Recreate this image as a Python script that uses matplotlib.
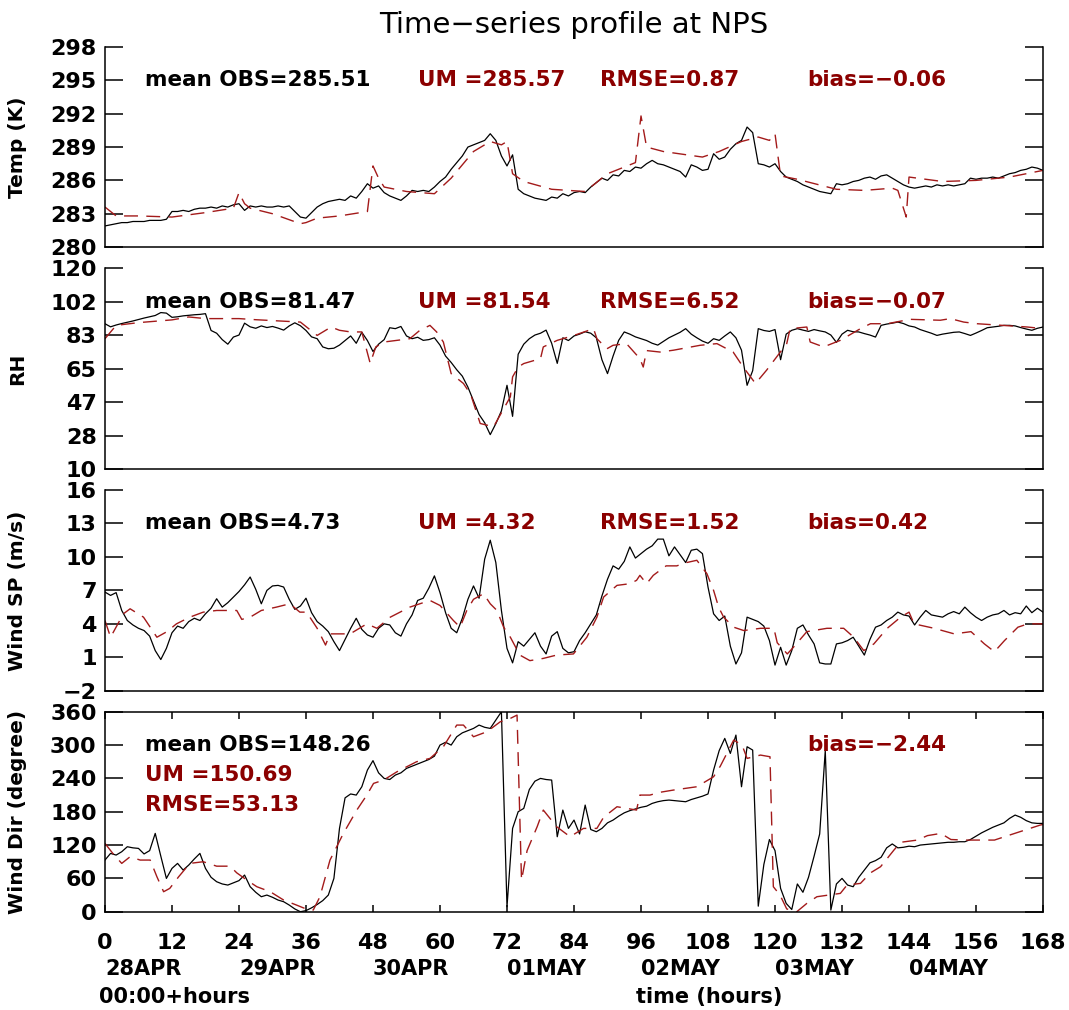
import numpy as np
import matplotlib
matplotlib.use('Agg')
import matplotlib.pyplot as plt
from matplotlib.transforms import blended_transform_factory

# ---- data ----
# observations, hourly from 0 to 168 h
temp_obs = [281.9, 282.0, 282.1, 282.2, 282.2, 282.3, 282.3, 282.3, 282.4, 282.4, 282.4, 282.5,
            283.2, 283.2, 283.3, 283.2, 283.4, 283.5, 283.5, 283.6, 283.5, 283.7, 283.6, 283.8,
            283.9, 283.3, 283.7, 283.6, 283.7, 283.6, 283.6, 283.7, 283.6, 283.7, 283.2, 282.7,
            282.6, 283.1, 283.6, 283.9, 284.1, 284.2, 284.3, 284.2, 284.6, 284.4, 285.0, 285.7,
            285.3, 285.5, 284.9, 284.6, 284.4, 284.2, 284.6, 285.1, 285.0, 285.1, 285.0, 285.4,
            285.9, 286.3, 287.0, 287.6, 288.2, 289.0, 289.2, 289.4, 289.6, 290.2, 289.6, 288.2,
            287.3, 288.3, 285.2, 284.8, 284.6, 284.4, 284.3, 284.2, 284.5, 284.4, 284.8, 284.6,
            284.9, 285.0, 284.9, 285.4, 285.8, 286.2, 286.0, 286.5, 286.4, 286.9, 286.8, 287.2,
            287.1, 287.5, 287.8, 287.5, 287.4, 287.2, 287.0, 286.8, 286.3, 287.4, 287.2, 286.9,
            287.0, 288.4, 287.9, 288.1, 288.8, 289.3, 289.6, 290.8, 290.3, 287.5, 287.4, 287.2,
            287.5, 286.8, 286.3, 286.1, 285.9, 285.6, 285.4, 285.2, 285.0, 284.9, 284.8, 285.7,
            285.6, 285.7, 285.9, 286.0, 286.2, 286.3, 286.1, 286.4, 286.5, 286.2, 285.9, 285.6,
            285.4, 285.3, 285.4, 285.5, 285.4, 285.6, 285.5, 285.6, 285.5, 285.6, 285.7, 286.2,
            286.1, 286.2, 286.2, 286.3, 286.2, 286.4, 286.6, 286.7, 286.9, 287.0, 287.2, 287.1,
            286.9]

rh_obs = [89.7, 88.0, 89.0, 89.8, 90.5, 91.2, 92.0, 92.8, 93.5, 94.2, 95.8, 95.5,
          93.2, 93.5, 94.0, 94.3, 94.6, 94.8, 95.2, 86.0, 84.5, 81.0, 78.5, 82.4,
          83.5, 90.0, 88.0, 87.2, 88.5, 87.6, 88.2, 87.3, 86.2, 88.5, 90.2, 88.6,
          86.0, 82.5, 81.5, 77.0, 76.0, 76.3, 78.0, 80.5, 83.0, 79.0, 85.0, 80.5,
          74.5, 78.5, 81.0, 87.5, 87.0, 88.2, 83.0, 81.5, 82.3, 80.6, 81.0, 82.0,
          78.0, 72.0, 68.5, 64.5, 61.0, 55.0, 47.5, 40.0, 35.5, 29.0, 35.0, 42.0,
          56.0, 39.0, 73.0, 78.5, 81.5, 83.5, 84.5, 86.2, 79.0, 68.0, 82.0, 80.5,
          83.0, 84.0, 85.3, 84.5, 82.0, 70.0, 62.4, 72.0, 80.6, 85.2, 84.0, 82.5,
          81.5, 80.5, 79.0, 78.0, 80.0, 82.0, 83.5, 85.0, 87.0, 84.0, 82.0, 80.2,
          79.0, 81.5, 80.6, 83.0, 85.2, 82.0, 75.2, 56.0, 64.0, 87.0, 86.0, 85.5,
          86.5, 70.0, 84.0, 86.1, 87.0, 86.2, 85.5, 86.5, 85.8, 85.2, 83.5, 79.5,
          84.0, 86.1, 85.3, 85.2, 84.3, 83.5, 82.4, 88.8, 89.5, 90.0, 90.6, 89.8,
          88.5, 87.9, 86.5, 85.5, 84.5, 83.3, 84.0, 84.5, 85.0, 85.2, 84.3, 83.3,
          84.6, 86.0, 87.5, 87.9, 88.3, 88.8, 88.8, 88.5, 87.6, 86.8, 86.1, 87.2,
          87.9]

ws_obs = [6.85, 6.55, 6.8, 5.2, 4.3, 3.9, 3.6, 3.4, 2.9, 1.6, 0.8, 1.8,
          3.2, 3.8, 3.6, 4.2, 4.5, 4.3, 4.9, 5.4, 6.25, 5.5, 5.9, 6.4,
          6.9, 7.5, 8.2, 7.1, 5.8, 7.0, 7.4, 7.45, 7.3, 6.2, 5.3, 5.6,
          6.3, 5.0, 4.2, 3.8, 3.3, 2.4, 1.6, 2.6, 3.6, 4.5, 3.5, 3.0,
          2.8, 3.6, 4.0, 3.9, 3.2, 2.9, 4.0, 4.8, 6.1, 6.3, 7.2, 8.3,
          6.8, 5.0, 3.6, 3.2, 4.5, 6.2, 7.4, 6.3, 9.8, 11.5, 9.5, 5.2,
          1.8, 0.5, 2.4, 2.0, 2.6, 3.2, 2.0, 1.3, 2.9, 3.3, 1.8, 1.4,
          1.5, 2.5, 3.2, 4.0, 4.8, 6.5, 8.0, 9.2, 8.9, 9.6, 10.9, 9.9,
          10.3, 10.7, 11.0, 11.6, 11.6, 10.1, 10.9, 10.2, 9.5, 10.6, 10.7, 10.3,
          7.3, 4.9, 4.3, 4.7, 2.0, 0.4, 1.4, 4.6, 4.4, 4.2, 3.8, 2.5,
          0.3, 1.9, 0.3, 1.6, 3.6, 3.9, 3.0, 2.2, 0.5, 0.4, 0.4, 2.2,
          2.3, 2.5, 2.8, 2.0, 1.2, 2.6, 3.7, 3.9, 4.3, 4.6, 5.05, 4.8,
          4.7, 3.9, 4.6, 5.2, 4.8, 4.7, 4.6, 4.9, 5.1, 4.9, 5.5, 5.0,
          4.6, 4.3, 4.6, 4.8, 4.9, 5.2, 4.8, 5.0, 4.9, 5.6, 5.0, 5.4,
          5.05]

wd_obs = [93, 105, 102, 108, 117, 115, 114, 104, 110, 141, 100, 60,
          78, 87, 75, 84, 95, 105, 78, 62, 54, 50, 48, 52,
          56, 66, 45, 35, 27, 30, 26, 21, 18, 12, 5, 0,
          2, 7, 13, 20, 30, 60, 150, 205, 212, 210, 225, 255,
          272, 250, 240, 238, 246, 250, 258, 262, 266, 270, 274, 280,
          300, 305, 300, 315, 322, 326, 330, 336, 332, 330, 345, 360,
          9, 150, 180, 186, 220, 235, 240, 238, 237, 135, 183, 150,
          165, 140, 192, 148, 144, 150, 160, 165, 172, 178, 182, 185,
          188, 190, 195, 198, 200, 201, 200, 199, 198, 202, 205, 208,
          212, 255, 290, 312, 285, 318, 225, 297, 291, 10, 85, 130,
          110, 42, 15, 4, 50, 35, 62, 100, 140, 290, 3, 50,
          60, 48, 45, 62, 75, 88, 92, 98, 115, 122, 115, 116,
          118, 117, 120, 121, 122, 123, 124, 125, 125, 126, 126, 130,
          136, 142, 147, 152, 156, 160, 168, 174, 170, 164, 160, 159,
          159]

# model (UM) values at the hours where they could be read
temp_um_t = [0, 1, 2, 6, 12, 18, 23, 24, 25, 26, 30, 35, 36, 38, 42, 47, 48, 49, 50, 54,
             59, 62, 66, 69, 71, 72, 73, 75, 80, 86, 90, 95, 96, 97, 100, 107, 110, 114,
             117, 119, 120, 121, 124, 131, 136, 141, 142, 143.5, 144, 150, 156, 162, 168]
temp_um = [283.6, 283.2, 282.8, 282.8, 282.7, 283.1, 283.5, 284.9, 283.9, 283.5, 283.0,
           282.1, 282.2, 282.6, 282.8, 283.2, 287.3, 286.2, 285.4, 285.0, 284.8, 286.2,
           288.6, 289.5, 289.2, 289.5, 286.6, 285.9, 285.2, 285.0, 286.6, 287.6, 291.8,
           289.0, 288.6, 288.1, 288.6, 289.5, 289.9, 289.6, 290.2, 286.4, 286.1, 285.2,
           285.1, 285.3, 285.1, 282.7, 286.3, 285.9, 286.0, 286.3, 286.9]

rh_um_t = [0, 2, 6, 12, 15, 18, 24, 27, 35, 38, 40.5, 42, 44, 46, 47.5, 48.5, 50, 54.6,
           56.4, 58.2, 59.4, 60.6, 62, 64.2, 65.5, 67.2, 69.6, 72.6, 73, 74, 75, 78, 78.5,
           81, 84, 87.5, 88.1, 89.9, 91, 93.4, 95.8, 96.4, 97, 99.4, 101.8, 106.6, 109.6,
           112.5, 114.3, 116.5, 118.5, 122.1, 122.7, 125.7, 126.3, 128.7, 131.7, 135.3,
           137.1, 140.1, 144.2, 149.6, 151.4, 153.8, 156.2, 165.2, 168]
rh_um = [81.5, 88.8, 90.3, 91.8, 93.4, 92.5, 92.5, 91.9, 90.6, 83.3, 87.9, 86.1, 85.2,
         85.2, 68.0, 77.0, 79.7, 81.5, 86.1, 88.8, 85.2, 79.7, 62.4, 57.0, 51.0, 35.1,
         33.3, 49.7, 60.6, 66.0, 67.9, 70.6, 77.0, 80.6, 83.3, 87.0, 81.5, 76.0, 77.9,
         78.8, 70.6, 66.0, 75.0, 74.2, 75.2, 77.9, 78.8, 74.2, 66.0, 57.0, 64.3, 78.8,
         87.0, 87.9, 79.7, 77.0, 80.6, 87.0, 89.7, 89.7, 92.1, 91.6, 92.5, 90.6, 89.7,
         87.9, 87.0]

ws_um_t = [0, 1, 3.3, 4.5, 6.9, 9.3, 11.1, 12.8, 15.2, 17.6, 20, 23.6, 24.5, 26, 28,
           30.7, 33.1, 34.9, 36.1, 38, 39.5, 40.3, 43.9, 46.9, 48.7, 51.1, 54.6, 58.2,
           60, 62.4, 63.6, 64.8, 66, 67.8, 69, 70.2, 71.4, 72.6, 74.3, 76.1, 78.5, 80.9,
           83.9, 86.3, 88.1, 89.3, 91.7, 94, 95.2, 95.8, 97, 98.2, 99.4, 100.5, 102.4,
           104.2, 106, 107.8, 109, 109.9, 110.8, 112.6, 114.4, 117.4, 119.8, 120.4,
           122.2, 123.3, 125.7, 129.3, 132.3, 134.1, 135.9, 137.7, 140.1, 142.5, 144,
           144.9, 148.5, 152.1, 155.1, 157.5, 159.3, 161.1, 163.5, 165.3, 168]
ws_um = [4.3, 2.8, 4.9, 5.35, 4.6, 2.8, 3.3, 4.0, 4.6, 5.05, 5.2, 5.2, 4.4, 4.6, 5.2,
         5.5, 5.8, 5.05, 5.05, 3.6, 2.1, 3.1, 3.1, 4.0, 3.6, 4.6, 5.5, 6.1, 5.65, 4.3,
         3.7, 5.2, 6.2, 6.7, 5.8, 5.2, 3.7, 2.8, 1.2, 0.7, 0.9, 1.2, 1.3, 2.8, 4.6, 6.4,
         7.45, 7.6, 7.9, 8.35, 7.6, 8.35, 8.8, 9.2, 9.2, 9.5, 9.7, 8.5, 7.0, 5.5, 4.6,
         3.7, 3.4, 3.6, 3.6, 2.3, 1.3, 1.9, 3.3, 3.6, 3.6, 2.8, 1.6, 2.2, 3.6, 4.6, 5.05,
         4.0, 3.6, 3.1, 3.3, 2.2, 1.5, 2.5, 3.7, 4.0, 4.0]

wd_um_t = [0, 1.4, 3, 4.5, 6.3, 8.1, 9.3, 10.5, 11.6, 13.2, 15.2, 17.6, 20, 22.4, 23.6,
           25.4, 27.2, 29.6, 32, 34.3, 36.5, 37.3, 38.5, 40.3, 42.7, 45.1, 46.9, 48.1,
           49.9, 52.3, 55.8, 58.2, 60.6, 63, 64.2, 66, 68.4, 70.8, 72.6, 73.8, 74.6,
           75.6, 77.4, 78.5, 80.9, 83.3, 85.7, 88.1, 89.3, 91.7, 95.2, 95.8, 97.6, 99.4,
           101.8, 106, 109, 110.2, 112.6, 114.1, 115, 117.4, 119.1, 119.7, 120.9, 122.1,
           123.9, 125.7, 127.5, 131.7, 132.9, 135.3, 137.1, 138.9, 141.3, 142.5, 145.5,
           147.3, 149.7, 151.5, 153.9, 159.3, 161.1, 167.5, 168]
wd_um = [123, 105, 87, 99, 93, 93, 63, 36, 42, 63, 87, 90, 82, 82, 70, 57, 45, 36, 21,
         12, 3, 3, 27, 93, 141, 183, 210, 231, 237, 252, 270, 276, 297, 336, 336, 315,
         324, 342, 348, 354, 57, 110, 153, 183, 153, 135, 150, 150, 170, 189, 183, 210,
         210, 215, 219, 225, 243, 262, 309, 300, 276, 282, 279, 45, 30, 5, 0, 15, 27, 33,
         48, 51, 70, 81, 111, 125, 129, 137, 141, 130, 129, 129, 135, 156, 157]

temp_ticks = [280, 283, 286, 289, 292, 295, 298]
rh_ticks = list(np.linspace(10, 120, 7))
rh_ticklabels = ['10', '28', '47', '65', '83', '102', '120']
ws_ticks = [-2, 1, 4, 7, 10, 13, 16]
wd_ticks = [0, 60, 120, 180, 240, 300, 360]
hour_ticks = list(range(0, 169, 12))
day_labels = ['28APR', '29APR', '30APR', '01MAY', '02MAY', '03MAY', '04MAY']

stats = {
    'temp': ['mean OBS=285.51', 'UM =285.57', 'RMSE=0.87', 'bias=\u22120.06'],
    'rh': ['mean OBS=81.47', 'UM =81.54', 'RMSE=6.52', 'bias=\u22120.07'],
    'ws': ['mean OBS=4.73', 'UM =4.32', 'RMSE=1.52', 'bias=0.42'],
    'wd': ['mean OBS=148.26', 'UM =150.69', 'RMSE=53.13', 'bias=\u22122.44'],
}

# ---- drawing ----
plt.rcParams['font.family'] = ['DejaVu Sans']
plt.rcParams['font.weight'] = 'bold'

obs_color = 'black'
um_color = '#a31a1a'
txt_red = '#8b0000'

fig = plt.figure(figsize=(10.69, 10.10), dpi=100)
left, width = 0.0982, 0.8775
boxes = [(0.7554, 0.198), (0.5353, 0.199), (0.3161, 0.1987), (0.0973, 0.198)]

hours = np.arange(len(temp_obs))
panels = [
    ('temp', temp_obs, temp_um_t, temp_um, (280, 298), temp_ticks,
     [str(v) for v in temp_ticks], 'Temp (K)'),
    ('rh', rh_obs, rh_um_t, rh_um, (10, 120), rh_ticks, rh_ticklabels, 'RH'),
    ('ws', ws_obs, ws_um_t, ws_um, (-2, 16), ws_ticks,
     [str(v).replace('-', '\u2212') for v in ws_ticks], 'Wind SP (m/s)'),
    ('wd', wd_obs, wd_um_t, wd_um, (0, 360), wd_ticks,
     [str(v) for v in wd_ticks], 'Wind Dir (degree)'),
]

axes = []
for (b, h), (key, obs, um_t, um, ylim, yt, ytl, ylab) in zip(boxes, panels):
    ax = fig.add_axes([left, b, width, h])
    ax.plot(hours, obs, color=obs_color, lw=0.9)
    ax.plot(um_t, um, color=um_color, lw=1.0, dashes=(10, 6))
    ax.set_xlim(0, 168)
    ax.set_ylim(*ylim)
    ax.set_yticks(yt)
    ax.set_yticklabels(ytl)
    ax.tick_params(axis='y', direction='in', length=13, width=1.1,
                   left=True, right=True, labelsize=16, pad=6)
    ax.set_ylabel(ylab, fontsize=14.5, fontweight='bold')
    ax.yaxis.set_label_coords(-0.083, 0.5)
    for sp in ax.spines.values():
        sp.set_linewidth(1.1)
    axes.append(ax)

    s = stats[key]
    if key != 'wd':
        ty = 0.835
        ax.text(0.0426, ty, s[0], transform=ax.transAxes, color='black',
                fontsize=15.5, va='center', ha='left')
        ax.text(0.334, ty, s[1], transform=ax.transAxes, color=txt_red,
                fontsize=15.5, va='center', ha='left')
        ax.text(0.528, ty, s[2], transform=ax.transAxes, color=txt_red,
                fontsize=15.5, va='center', ha='left')
        ax.text(0.749, ty, s[3], transform=ax.transAxes, color=txt_red,
                fontsize=15.5, va='center', ha='left')
        ax.spines['top'].set_visible(False)
        ax.tick_params(axis='x', bottom=False, top=False, labelbottom=False)
    else:
        ax.text(0.0426, 0.833, s[0], transform=ax.transAxes, color='black',
                fontsize=15.5, va='center', ha='left')
        ax.text(0.0426, 0.683, s[1], transform=ax.transAxes, color=txt_red,
                fontsize=15.5, va='center', ha='left')
        ax.text(0.0426, 0.534, s[2], transform=ax.transAxes, color=txt_red,
                fontsize=15.5, va='center', ha='left')
        ax.text(0.749, 0.833, s[3], transform=ax.transAxes, color=txt_red,
                fontsize=15.5, va='center', ha='left')
        ax.set_xticks(hour_ticks)
        ax.tick_params(axis='x', direction='in', length=5, width=1.1,
                       top=True, bottom=True, labelsize=16, pad=15)
        trans = blended_transform_factory(ax.transData, ax.transAxes)
        for k, d in enumerate(day_labels):
            ax.text(24 * k, -0.285, d, transform=trans, fontsize=15,
                    ha='left', va='center')
        ax.text(-1, -0.425, '00:00+hours', transform=trans, fontsize=15,
                ha='left', va='center')
        ax.text(0.566, -0.425, 'time (hours)', transform=ax.transAxes,
                fontsize=15, ha='left', va='center')

axes[0].set_title('Time\u2212series profile at NPS', fontsize=21,
                  fontweight='normal', pad=10)

fig.savefig('out.png', dpi=100)
